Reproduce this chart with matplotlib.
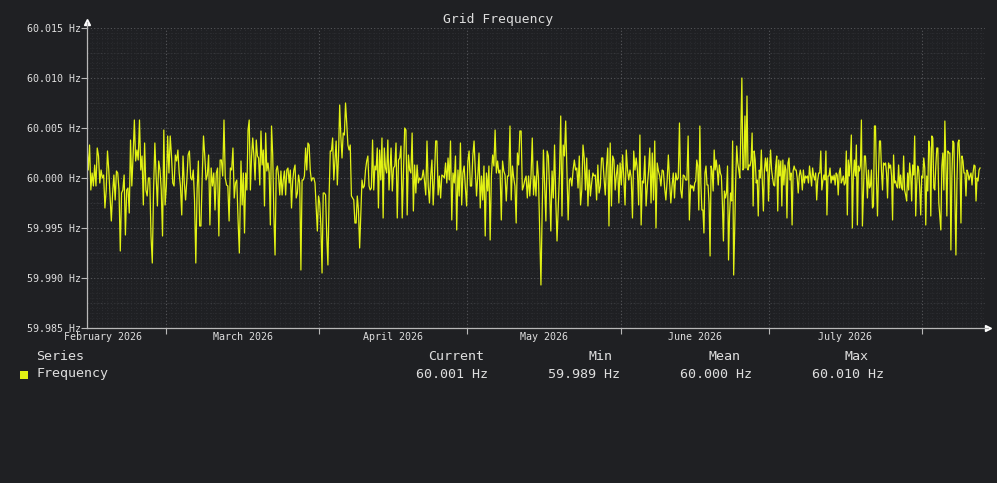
import numpy as np
import matplotlib
matplotlib.use("Agg")
import matplotlib.pyplot as plt
import matplotlib.dates as mdates
from matplotlib.ticker import MultipleLocator, FixedLocator
from matplotlib.patches import Rectangle
from matplotlib.transforms import blended_transform_factory
from datetime import datetime

# ---------------- data (deviation from 60 Hz, in mHz) ----------------
NOMINAL = 60.0
seg_bounds = [
    (datetime(2026, 2, 13, 0), datetime(2026, 3, 15, 20)),
    (datetime(2026, 3, 16, 4), datetime(2026, 4, 15, 3)),
    (datetime(2026, 4, 15, 13), datetime(2026, 5, 15, 15)),
    (datetime(2026, 5, 15, 21), datetime(2026, 6, 14, 22)),
    (datetime(2026, 6, 15, 4), datetime(2026, 7, 15, 6)),
    (datetime(2026, 7, 15, 11), datetime(2026, 8, 12, 18)),
]
seg1 = [3.2, 0.8, 3.3, -1.2, 0.5, -0.8, 1.3, -0.8, 3.0, 2.2, -0.5, 0.8, 0, 0.3, -3.0, -1.2, 2.7, 0.8, -1.8, -4.3,
        -1.5, 0.3, -2.2, 0.7, 0.5, -1.2, -7.3, -1.5, -1.2, 0.3, -5.7, -1.2, -1.0, -3.5, 3.8, -0.8, 2.2, 5.8, 1.7,
        2.8, 1.8, 5.8, 0.8, 2.2, -2.7, 3.5, -1.2, -1.8, 0, 0, -5.8, -8.5, -1.2, 3.5, 0.2, -2.8, 1.7, 0.8, -1.2,
        -5.8, 4.8, -2.7, -0.8, 4.2, 0.5, 4.2, 2.2, -0.5, -0.8, 2.3, 1.7, 2.8, 0.5, -0.8, -3.7, 2.2, -0.5, -2.2,
        -0.2, 2.3, 2.7, 0, -0.2, 0.8, -2.2, -8.5, -1.2, 1.7, -4.8, -4.8, 0.2, 4.2, 2.2, -0.2, 0.3, 2.3, -4.7, 1.0,
        -0.8, 0.5, -3.2, 0.5, 1.0, -5.8, 1.8, 1.8, 0.2, 5.8, 0, -0.7, -0.8, -4.3, 1.0, 0.8, 3.0, -2.0, -0.5, -0.2,
        -4.2, -7.5]
seg2 = [1.7, -2.7, 0.5, -5.5, 0.5, -1.2, 4.8, 5.8, -1.2, 2.2, 4.0, 2.2, -0.2, 3.8, 2.2, 2.0, -0.7, 4.7, 1.3, 2.8,
        -2.8, 4.5, 0.7, 1.5, 0.5, -4.7, 5.2, 2.3, -3.8, -7.7, 0.8, 1.2, 0.2, -1.7, 0.7, -1.7, -0.2, 0.7, -1.7, 0.8,
        1.0, -0.5, 0.8, -3.0, -0.3, 0.8, 1.3, -2.0, -1.5, 0.3, -0.5, -9.2, -0.2, -0.2, 0.2, 3.0, 0.8, 3.5, 3.3,
        0.7, -0.3, 0, 0, -0.5, -2.8, -5.3, -1.8, -2.5, -4.8, -9.5, -1.5, -1.5, -1.7, -5.8, -8.7, -1.8, 2.7, 2.7,
        4.0, -0.2, 1.8, 3.7, -0.7, 2.2, 7.3, 4.2, 2.0, 4.5, 4.3, 7.5, 5.5, 3.3, 2.8, 3.3, -1.8, -2.0, -2.2, -4.5,
        -4.5, -1.8, -3.2, -7.0, -3.5, -0.2, -1.0, -0.8, 0.8, 1.7, 2.2, -0.8, -1.2, -1.0, 3.8, -1.2, 1.2, 0.8, 3.0,
        -3.0, 2.8, -0.2, 4.0, -4.0, 3.0, 1.0, 0.5, 3.8, -1.2]
seg3 = [3.0, -1.3, 1.0, 1.2, 3.5, -4.0, 1.8, 2.0, 3.2, -4.0, 0.5, 5.0, 4.8, -3.7, 2.3, 0.8, 0.5, 4.5, -3.3, 1.3,
        -1.5, 1.3, -0.5, 0, -0.2, 0, 0.8, -0.3, -1.7, 3.7, -0.8, -2.5, 0.2, 1.8, -2.7, 0, 3.7, 3.7, -1.7, 0.2,
        -2.0, 0.3, 0.2, 0, 1.5, -0.5, 2.0, -0.2, 3.7, -4.2, 0.5, -0.5, 2.2, -5.2, 0.8, -1.8, 3.5, -2.7, 0.5, 1.2,
        -1.0, -2.8, 1.7, 2.7, -0.8, -0.8, 2.2, 3.7, 0.8, -1.8, 0.2, 2.5, -3.0, 0.2, -2.2, 1.2, -5.8, 0.5, -1.3,
        1.2, -6.2, 0.2, 2.3, 1.2, 4.8, 0.5, 1.7, 0.5, 0.8, -4.2, 1.7, 0.7, 0.3, -2.3, 0.2, 0.2, 5.2, -2.2, 1.2, 0,
        -0.8, -4.5, 2.5, 1.3, 4.7, 4.7, -1.2, -0.8, -0.2, 0.2, -2.0, 0.2, -1.8, 0.3, 4.0, -1.7, 0.2, -1.8, 1.7, 0,
        -5.5]
seg4 = [-10.7, -3.2, 2.8, -0.8, -4.3, 2.7, 2.2, -1.2, -5.3, 0.7, -2.0, 3.3, -2.2, -6.3, -2.8, 0.5, 6.2, -3.8, 3.3,
        2.2, 5.7, 0.8, -4.2, -0.2, 0, -0.8, 0.8, 1.8, 0.8, 1.0, -1.0, 2.2, -2.7, -1.2, 3.3, 2.0, -1.2, 2.0, -2.8,
        0.8, -1.8, -0.5, 0.5, 0.2, 0.3, -2.2, 1.3, -1.5, -0.8, 2.0, 2.0, 0, -1.7, 1.2, 3.0, -4.8, 3.5, -2.8, 2.2,
        1.8, -1.2, 0.3, 1.3, -2.5, 1.5, -0.7, 2.3, 0, -2.7, 2.8, 0.8, -0.2, 0.8, 0, -4.0, 2.7, 0.8, 2.0, 0.8,
        -2.7, 4.3, -4.7, -0.3, -0.5, 2.2, -2.8, -0.8, 0.7, 3.0, -2.5, 2.5, -2.2, 3.7, -5.0, 1.5, 0.7, 0.2, -0.8,
        0.8, 0.7, -1.0, -2.2, -0.3, 2.3, -0.3, -2.5, -0.8, 0.5, -2.0, 0.5, -0.2, 0, 5.5, -1.2, -2.0, 0.3, 0.2,
        -0.2, -0.2, 4.2, -4.2]
seg5 = [-0.7, -1.0, -0.8, -1.3, -0.5, -0.3, 1.8, 1.2, -3.2, 5.2, -0.5, -3.2, -3.2, -5.5, 0.5, 1.2, -0.7, -0.7,
        -2.5, -7.8, 1.2, 0.7, -1.3, 2.8, 0.8, 1.8, 0.8, -0.7, 1.3, 0.5, 0.2, -2.5, -6.3, -1.3, -2.0, -1.5, 1.2,
        -8.2, -3.7, -1.5, -2.3, 3.7, -9.7, -5.2, -0.2, 3.2, 1.5, 0.8, 0, 4.5, 10.0, 0.8, 1.0, 6.2, 1.0, 8.2, 0.8,
        1.3, 1.2, 1.8, 4.5, -2.8, 2.7, 1.8, -0.5, -0.2, -3.8, 0.8, 0, 2.8, -0.5, -3.3, 0.8, 2.0, 0.7, 2.0, -2.3,
        0.8, 2.8, 0.8, 0, -0.7, -0.8, 1.2, 2.2, -3.3, 1.8, 0.2, 1.7, -2.8, 1.8, -0.7, 1.3, 0.8, -4.0, 1.5, 2.0,
        -0.2, 0.5, -4.7, 0.7, 1.2, 0.8, 0.8, 0, -1.5, 0.2, 0.8, 0.2, -1.2, 0.8, -0.5, 0.2, 0, 0.2, -0.5, 1.2, 0.2,
        -0.8, 1.0, 0.2, -0.2, 0.5, -2.2, -0.2, 0.5, 0.5, 2.7, -1.2, -0.3, 0.3, -0.2, 2.7, -3.7, 0.2, 0.2, 1.0,
        -0.5, 0.2, -0.2, 0.3, -0.7, 0.5, 0.3, -1.7, 0.5]
seg6 = [1.0, -0.5, -0.2, 0.2, -0.7, -0.5, 2.7, -3.7, 1.8, 0.2, 1.7, 4.3, -5.0, 0.2, 1.8, 0.2, 3.3, -4.7, 1.2, 0.7,
        1.2, 5.8, -4.8, -1.7, 2.2, 2.2, 0.3, -2.0, 0.8, -1.0, -0.8, 0.8, -3.0, -2.8, 5.2, 5.2, -0.2, -3.8, 0.5,
        3.7, 3.7, 0.7, -1.2, 1.5, 1.3, 1.5, 0.5, -2.0, 1.5, 1.0, 1.3, 0.2, -4.2, 2.3, -0.5, -0.3, -0.8, -1.0, 1.3,
        -1.0, 0.3, -1.0, -1.2, 2.2, -1.2, -1.7, -2.3, 0.5, -1.2, 1.5, 0.3, -2.3, 1.3, 0.3, 4.2, -3.8, -0.7, 1.2,
        0.8, -1.0, -3.7, 0.2, 0, 2.0, 1.0, -4.7, 0.2, -1.3, 3.7, 3.0, -3.8, 4.2, 4.0, -1.0, -1.2, 1.2, 3.0, 3.0,
        -2.5, -3.8, -5.2, 1.2, 2.5, -1.2, 5.7, 1.5, -3.8, 2.7, 2.5, 2.5, -7.2, 0.2, 3.7, 3.5, -2.2, -7.7, -0.5,
        3.5, 3.8, 1.5, -4.5, 2.2, 1.7, 0.5, 0.5, -1.8, 0.8, 0.5, -0.2, 0.2, 0.5, -0.7, 0.5, 1.3, 1.2, -2.3, 0,
        -0.3, 0.8, 1.0]
segments = [seg1, seg2, seg3, seg4, seg5, seg6]

y_ticks = [59.985, 59.990, 59.995, 60.000, 60.005, 60.010, 60.015]
month_names = ["February 2026", "March 2026", "April 2026", "May 2026", "June 2026", "July 2026"]
month_starts = [datetime(2026, m, 1) for m in range(2, 9)]
x_start = datetime(2026, 2, 13, 0)
x_end = datetime(2026, 8, 13, 18)
series_name = "Frequency"

# ---------------- build series ----------------
t_list, v_list = [], []
for (s, e), seg in zip(seg_bounds, segments):
    t_list.append(np.linspace(mdates.date2num(s), mdates.date2num(e), len(seg)))
    v_list.append(NOMINAL + np.array(seg) / 1000.0)
times = np.concatenate(t_list)
vals = np.concatenate(v_list)

# ---------------- style ----------------
BG = "#1f2023"
LINE = "#e2f214"
TXT = "#dedede"
AXC = "#b8b8b8"
MONO = "DejaVu Sans Mono"
W, H = 997, 483

fig = plt.figure(figsize=(W / 100, H / 100), dpi=100, facecolor=BG)
ax = fig.add_axes([87 / W, 1 - 328 / H, 898 / W, 300 / H])
ax.set_facecolor(BG)

ax.set_xlim(mdates.date2num(x_start), mdates.date2num(x_end))
ax.set_ylim(y_ticks[0], y_ticks[-1])

# grids
ax.yaxis.set_major_locator(FixedLocator(y_ticks))
ax.yaxis.set_minor_locator(MultipleLocator(0.0005))
ax.xaxis.set_major_locator(FixedLocator([mdates.date2num(d) for d in month_starts]))
ax.xaxis.set_minor_locator(mdates.DayLocator())
ax.grid(which="minor", color="#2c2d31", linestyle=(0, (1, 2)), linewidth=0.7)
ax.grid(which="major", color="#56575b", linestyle=(0, (1, 2)), linewidth=0.8)
for yv in np.arange(y_ticks[0] + 0.0025, y_ticks[-1], 0.005):
    ax.axhline(yv, color="#3c3d41", linestyle=(0, (1, 2)), linewidth=0.8, zorder=0.5)

ax.plot(times, vals, color=LINE, linewidth=0.9, zorder=3)

for sp in ax.spines.values():
    sp.set_visible(False)
ax.plot([0, 0], [0, 1.02], transform=ax.transAxes, color=AXC, lw=0.9, clip_on=False, zorder=4)
ax.plot([0, 1.0035], [0, 0], transform=ax.transAxes, color=AXC, lw=0.9, clip_on=False, zorder=4)
ax.plot([0], [1.02], marker="^", markersize=4, color="white", transform=ax.transAxes, clip_on=False)
ax.plot([1.0035], [0], marker=">", markersize=4, color="white", transform=ax.transAxes, clip_on=False)

ax.tick_params(axis="both", which="minor", length=0)
ax.tick_params(axis="y", which="major", length=4, color=AXC, width=0.8, pad=0.5,
               labelsize=7.2, labelcolor=TXT)
ax.tick_params(axis="x", which="major", length=4, color=AXC, width=0.8, labelbottom=False)
ax.set_yticklabels([f"{v:.3f} Hz" for v in y_ticks], fontfamily=MONO)

# month labels centred in month span
trans = blended_transform_factory(ax.transData, ax.transAxes)
for i, name in enumerate(month_names):
    if i == 0:
        ax.text(-23 / 898, -0.031, name, transform=ax.transAxes, ha="left", va="center",
                fontsize=7.2, color=TXT, family=MONO)
    else:
        mid = (mdates.date2num(month_starts[i]) + mdates.date2num(month_starts[i + 1])) / 2
        ax.text(mid, -0.031, name, transform=trans, ha="center", va="center",
                fontsize=7.2, color=TXT, family=MONO)

fig.text(498 / W, 1 - 19 / H, "Grid Frequency", ha="center", va="center",
         fontsize=9.4, color=TXT, family=MONO)

# legend table
cur, vmin, vmean, vmax = vals[-1], vals.min(), vals.mean(), vals.max()
def fx(x): return x / W
def fy(y): return 1 - y / H
fs = 9.6
fig.text(fx(36), fy(356), "Series", ha="left", va="center", fontsize=fs, color=TXT, family=MONO)
fig.text(fx(36), fy(374), series_name, ha="left", va="center", fontsize=fs, color=TXT, family=MONO)
fig.patches.append(Rectangle((fx(20), fy(379)), 8 / W, 8 / H, transform=fig.transFigure,
                             facecolor=LINE, edgecolor="none"))
cols = [("Current", cur, 456, 452), ("Min", vmin, 600, 584), ("Mean", vmean, 724, 716), ("Max", vmax, 856, 848)]
for head, v, hx, vx in cols:
    fig.text(fx(hx), fy(356), head, ha="center", va="center", fontsize=fs, color=TXT, family=MONO)
    fig.text(fx(vx), fy(374), f"{v:.3f} Hz", ha="center", va="center", fontsize=fs, color=TXT, family=MONO)

fig.savefig("out.png", dpi=100, facecolor=BG)
